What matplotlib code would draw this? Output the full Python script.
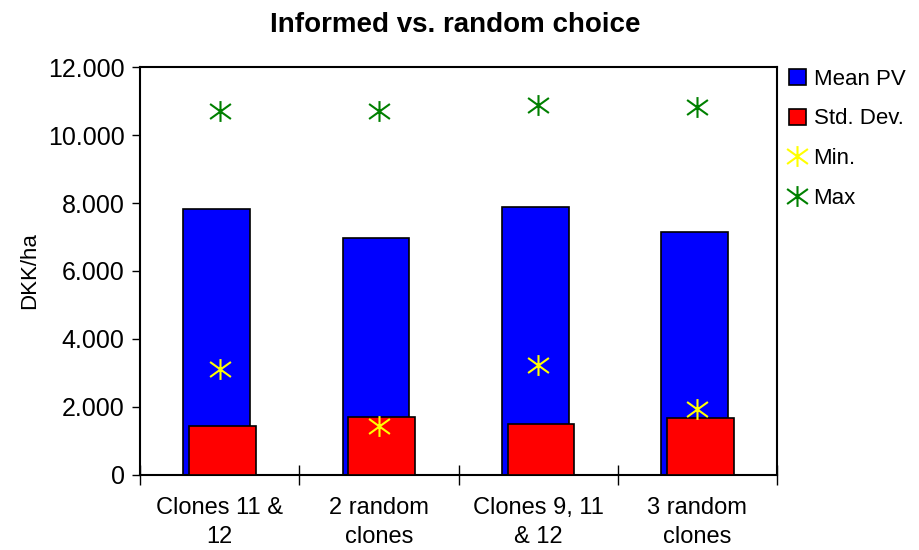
import matplotlib
matplotlib.use("Agg")
import matplotlib.pyplot as plt
import numpy as np
from matplotlib.path import Path
from matplotlib.ticker import FuncFormatter, FixedLocator

plt.rcParams['font.family'] = ['Liberation Sans', 'DejaVu Sans']

categories = ["Clones 11 &\n12", "2 random\nclones", "Clones 9, 11\n& 12", "3 random\nclones"]
mean_pv = [7820, 6980, 7890, 7160]
std_dev = [1450, 1710, 1500, 1670]
min_vals = [3120, 1450, 3240, 1930]
max_vals = [10710, 10710, 10880, 10830]

star = Path([(0, -1), (0, 1), (-1, -0.72), (1, 0.72), (-1, 0.72), (1, -0.72)],
            [Path.MOVETO, Path.LINETO, Path.MOVETO, Path.LINETO, Path.MOVETO, Path.LINETO])

fig = plt.figure(figsize=(9.19, 5.5), dpi=100)
ax = fig.add_axes([140/919, 75/550, 637/919, 408/550])

x = np.arange(len(categories))
w = 0.42
off = 0.018
h1 = ax.bar(x - off, mean_pv, width=w, color='#0000FF', edgecolor='black', linewidth=1.2, label='Mean PV', zorder=2)
h2 = ax.bar(x + off, std_dev, width=w, color='#FF0000', edgecolor='black', linewidth=1.2, label='Std. Dev.', zorder=3)
h3, = ax.plot(x, min_vals, linestyle='none', marker=star, markersize=15, markeredgewidth=1.5,
              color='#FFFF00', markeredgecolor='#FFFF00', label='Min.', zorder=4)
h4, = ax.plot(x, max_vals, linestyle='none', marker=star, markersize=15, markeredgewidth=1.5,
              color='#008000', markeredgecolor='#008000', label='Max', zorder=4)

ax.set_xlim(-0.5, len(categories) - 0.5)
ax.set_ylim(0, 12000)
ax.set_yticks(np.arange(0, 12001, 2000))
ax.yaxis.set_major_formatter(FuncFormatter(lambda v, p: '0' if v == 0 else f"{int(v):,}".replace(',', '.')))
ax.set_xticks(x)
ax.set_xticklabels(categories, fontsize=17, linespacing=1.4)
ax.xaxis.set_minor_locator(FixedLocator(np.arange(-0.5, len(categories), 1.0)))
ax.tick_params(axis='x', which='major', length=0, pad=16)
ax.tick_params(axis='x', which='minor', length=14, direction='inout', width=1)
ax.tick_params(axis='y', which='major', length=6, direction='out', width=1, labelsize=18, pad=5)
for s in ax.spines.values():
    s.set_linewidth(1.5)
    s.set_color('black')

ax.set_ylabel('DKK/ha', fontsize=16, labelpad=6)
fig.text(0.495, 1 - 25/550, 'Informed vs. random choice', ha='center', va='center',
         fontsize=20, fontweight='bold')

leg = ax.legend(handles=[h1, h2, h3, h4], loc='upper left', bbox_to_anchor=(1.005, 1.018),
                frameon=False, fontsize=16,
                handlelength=0.75, handleheight=0.75, handletextpad=0.35, labelspacing=0.85,
                borderaxespad=0.0)

fig.savefig('out.png', dpi=100)
